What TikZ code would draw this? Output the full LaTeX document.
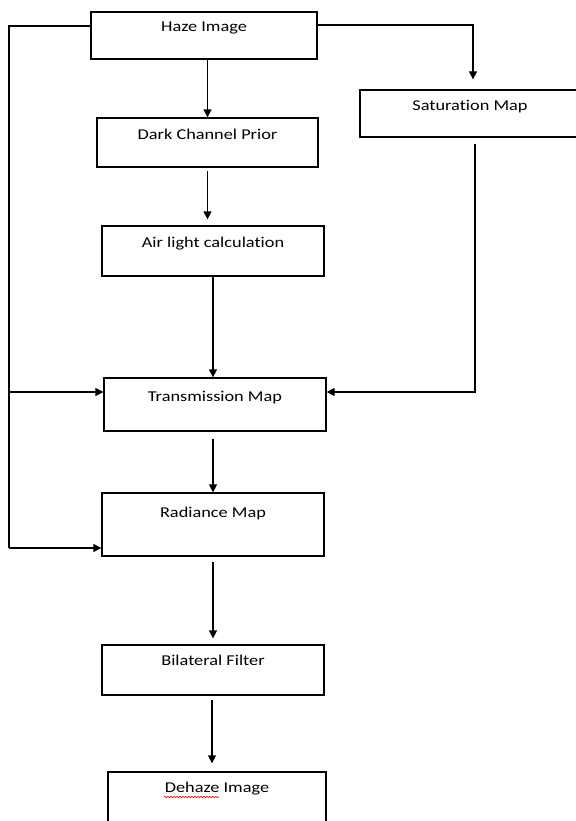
\documentclass[tikz,border=0pt]{standalone}
\usepackage{fontspec}
\setmainfont{Carlito}[FakeStretch=1.22, Ligatures=NoCommon]
\usetikzlibrary{arrows.meta,decorations.pathmorphing}

\begin{document}
\begin{tikzpicture}[x=1bp,y=-1bp,
  box/.style={draw, line width=1.3bp, inner sep=0pt},
  lbl/.style={anchor=base, yshift=-#1, inner sep=0pt, font=\fontsize{15bp}{18bp}\selectfont},
  lbl/.default=21bp,
  wire/.style={line width=1.3bp},
  flow/.style={line width=1.3bp, -{Triangle[length=8bp,width=8bp]}}]
\useasboundingbox (0,0) rectangle (576,821);
\clip (0,0) rectangle (576,821);

% blocks
\node[box, minimum width=226bp, minimum height=47bp, label={[lbl=20bp]north:Haze Image}] (haze) at (204,35.5) {};
\node[box, minimum width=221bp, minimum height=49bp, label={[lbl=22bp]north:Dark Channel Prior}] (dark) at (207.5,142.5) {};
\node[box, minimum width=220bp, minimum height=47bp, label={[lbl]north:Saturation Map}] (sat) at (470,113.5) {};
\node[box, minimum width=222bp, minimum height=50bp, label={[lbl=22bp]north:Air light calculation}] (air) at (213,251) {};
\node[box, minimum width=222bp, minimum height=53bp, label={[lbl=24bp]north:Transmission Map}] (trans) at (215,404.5) {};
\node[box, minimum width=222bp, minimum height=63bp, label={[lbl=25bp]north:Radiance Map}] (rad) at (213,524.5) {};
\node[box, minimum width=222bp, minimum height=50bp, label={[lbl]north:Bilateral Filter}] (bil) at (213,670) {};
\node[box, minimum width=218bp, minimum height=58bp, label={[lbl]north:Dehaze Image}] (dehaze) at (217,801) {};
\draw[red, line width=0.6bp, decorate, decoration={snake, amplitude=0.8bp, segment length=3bp}] (164,797) -- (219,797);

% bus on the left
\coordinate (busTop) at (9,26);
\coordinate (busT) at (9,392);
\coordinate (busR) at (9,548);
\draw[wire] (haze.west |- busTop) -- (busTop) -- (busR);
\draw[flow] (busR) -- (rad.west |- busR);
\draw[flow] (busT) -- (trans.west |- busT);

% saturation branch
\coordinate (satIn) at (473,25);
\coordinate (satOut) at (475,392);
\draw[flow, shorten >=10bp] (haze.east |- satIn) -- (satIn) -- (satIn |- sat.north);
\draw[flow, shorten <=6bp] (sat.south -| satOut) -- (satOut) -- (trans.east |- satOut);

% main chain
\coordinate (bilOut) at (212,695);
\draw[flow] (haze.south -| dark.north) -- (dark.north);
\draw[flow, shorten <=3bp, shorten >=6bp] (dark.south) -- (dark.south |- air.north);
\draw[flow] (air.south) -- (air.south |- trans.north);
\draw[flow, shorten <=7bp] (trans.south -| rad.north) -- (rad.north);
\draw[flow, shorten <=5bp, shorten >=6bp] (rad.south) -- (rad.south |- bil.north);
\draw[flow, shorten <=5bp, shorten >=8bp] (bilOut) -- (bilOut |- dehaze.north);

\end{tikzpicture}
\end{document}
